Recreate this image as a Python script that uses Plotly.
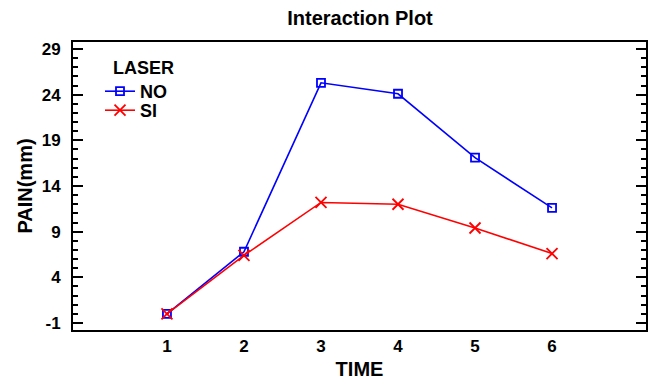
import plotly.graph_objects as go

time = [1, 2, 3, 4, 5, 6]
pain_no = [0.0, 6.8, 25.3, 24.1, 17.1, 11.6]
pain_si = [0.0, 6.4, 12.2, 12.0, 9.4, 6.6]
y_ticks = [-1, 4, 9, 14, 19, 24, 29]
y_tick_text = ["-1", "4", "9", "14", "19", "24", "29"]

font = "Liberation Sans"
bold = dict(family=font, weight="bold", color="black")

W, H = 651, 383
L, T = 73, 42
R, B = 5, 53
PW, PH = W - L - R, H - T - B

fig = go.Figure()
fig.add_trace(go.Scatter(
    x=time, y=pain_no, name="NO", mode="lines+markers", legend="legend",
    line=dict(color="#0000ff", width=1.6),
    marker=dict(symbol="square-open", size=8, color="#0000ff", line=dict(width=1.8)),
))
fig.add_trace(go.Scatter(
    x=time, y=pain_si, name="SI", mode="lines+markers", legend="legend2",
    line=dict(color="#ff0000", width=1.6),
    marker=dict(symbol="x-thin-open", size=11, color="#ff0000", line=dict(width=1.8, color="#ff0000")),
))
fig.add_trace(go.Scatter(x=time, y=pain_no, yaxis="y2", mode="none", showlegend=False, hoverinfo="skip"))

def lx(px):
    return px / PW

def ly(px):
    return 1 - px / PH

leg_common = dict(xanchor="left", yanchor="top", bgcolor="rgba(0,0,0,0)",
                  font=dict(size=18, **bold), itemwidth=30, borderwidth=0)

fig.update_layout(
    width=W, height=H,
    margin=dict(l=L, r=R, t=T, b=B, autoexpand=False),
    paper_bgcolor="white", plot_bgcolor="white",
    font=dict(family=font, color="black"),
    title=dict(text="Interaction Plot", x=360 / W, xanchor="center", y=1 - 18 / H, yanchor="middle",
               font=dict(size=20, **bold)),
    showlegend=True,
    legend=dict(x=lx(27), y=ly(31), **leg_common),
    legend2=dict(x=lx(27), y=ly(50), **leg_common),
    annotations=[dict(text="LASER", xref="paper", yref="paper", x=lx(38), y=ly(26),
                      xanchor="left", yanchor="middle", showarrow=False,
                      font=dict(size=18, **bold))],
    xaxis=dict(
        range=[-0.22, 7.22], tickvals=time,
        showline=True, linecolor="black", linewidth=2, mirror=True,
        ticks="", showgrid=False, zeroline=False, automargin=False,
        tickfont=dict(size=17, **bold),
        title=dict(text="TIME", font=dict(size=20, **bold), standoff=7),
    ),
    yaxis=dict(
        range=[-1.77, 29.77], tickvals=y_ticks, ticktext=y_tick_text,
        showline=True, linecolor="black", linewidth=2, mirror=True,
        ticks="inside", ticklen=10, tickwidth=2, tickcolor="black",
        ticklabelstandoff=7,
        minor=dict(dtick=1, tick0=-1, ticks="inside", ticklen=5, tickwidth=2, tickcolor="black", showgrid=False),
        showgrid=False, zeroline=False, automargin=False,
        tickfont=dict(size=17, **bold),
        title=dict(text="PAIN(mm)", font=dict(size=20, **bold), standoff=4),
    ),
    yaxis2=dict(
        overlaying="y", side="right", range=[-1.77, 29.77],
        tickvals=y_ticks, showticklabels=False, showline=False,
        ticks="inside", ticklen=10, tickwidth=2, tickcolor="black",
        minor=dict(dtick=1, tick0=-1, ticks="inside", ticklen=5, tickwidth=2, tickcolor="black", showgrid=False),
        showgrid=False, zeroline=False, automargin=False,
    ),
)

fig.write_html(
    "out.html",
    config={"displayModeBar": False},
    post_script="document.body.style.margin='0';document.body.style.overflow='hidden';",
)
